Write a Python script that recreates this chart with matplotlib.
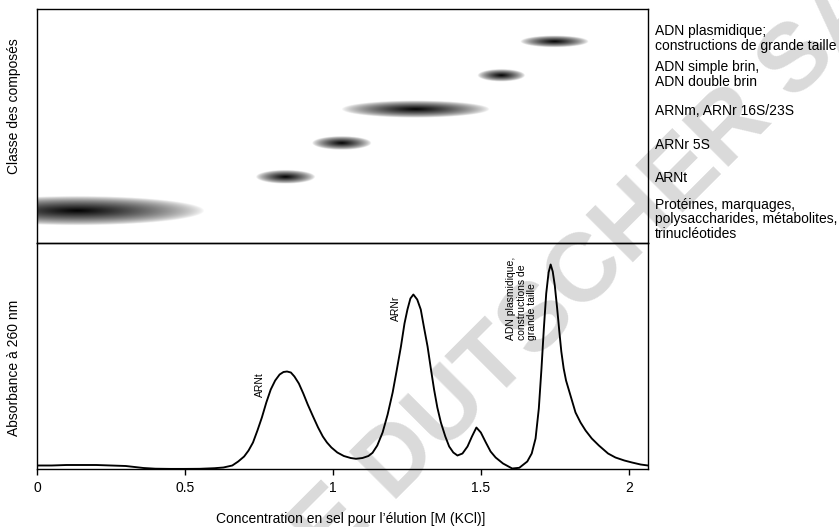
import numpy as np
import matplotlib as mpl
mpl.use('Agg')
import matplotlib.pyplot as plt

plt.rcParams['font.family'] = ['Liberation Sans', 'DejaVu Sans']

# --- data -------------------------------------------------------------
# compound classes, from lowest to highest elution salt
class_labels = ['Protéines, marquages,\npolysaccharides, métabolites,\ntrinucléotides',
                'ARNt',
                'ARNr 5S',
                'ARNm, ARNr 16S/23S',
                'ADN simple brin,\nADN double brin',
                'ADN plasmidique;\nconstructions de grande taille']
# elution window of each class (center and half width, M KCl)
class_center = [0.135, 0.84, 1.03, 1.28, 1.57, 1.75]
class_halfwidth = [0.43, 0.10, 0.10, 0.25, 0.08, 0.115]
class_spread = [0.43, 0.20, 0.20, 0.25, 0.18, 0.17]

# chromatogram (absorbance in arbitrary units)
conc = [0.00, 0.05, 0.10, 0.15, 0.20, 0.25, 0.30, 0.33, 0.36, 0.40, 0.45, 0.50, 0.55,
        0.60, 0.63, 0.66, 0.68, 0.70, 0.715, 0.73, 0.745, 0.76, 0.775, 0.79, 0.805,
        0.82, 0.833, 0.845, 0.858, 0.87, 0.885, 0.90, 0.915, 0.933, 0.95, 0.966, 0.98,
        0.995, 1.015, 1.037, 1.06, 1.078, 1.10, 1.12, 1.134, 1.15, 1.168, 1.185, 1.202,
        1.215, 1.230, 1.242, 1.252, 1.262, 1.272, 1.285, 1.297, 1.308, 1.320, 1.331,
        1.342, 1.353, 1.365, 1.38, 1.393, 1.407, 1.421, 1.438, 1.455, 1.47, 1.485, 1.50,
        1.517, 1.533, 1.550, 1.575, 1.606, 1.63, 1.657, 1.672, 1.685, 1.696, 1.705,
        1.713, 1.721, 1.729, 1.736, 1.743, 1.750, 1.758, 1.765, 1.772, 1.780, 1.788,
        1.80, 1.82, 1.837, 1.854, 1.875, 1.899, 1.93, 1.955, 1.985, 2.011, 2.04, 2.065]
absorb = [3.0, 3.0, 3.5, 3.5, 3.5, 3.0, 2.5, 1.5, 0.5, -0.2, -0.4, -0.4, -0.3,
          0.3, 1.0, 3.0, 7.0, 12, 18, 26, 38, 51, 66, 79, 88,
          94, 96.5, 97, 96, 92, 85, 75, 64, 52, 41, 32, 26,
          21, 16, 12.5, 10.5, 9.7, 10.5, 12.5, 15.7, 23, 36, 54, 76,
          97, 122, 145, 159, 170, 174, 169, 159, 141, 122, 100,
          79, 61, 46, 32, 22, 16, 13, 15, 22, 32, 41, 36,
          26, 17, 11, 5, 0, 0.7, 7, 15, 30, 60, 100,
          140, 175, 196, 204, 197, 183, 160, 138, 117, 100, 88,
          76, 56, 46, 38, 30, 23, 15, 11, 8, 6, 4, 3]

peak_labels = ['ARNt', 'ARNr', 'ADN plasmidique,\nconstructions de\ngrande taille']

# --- figure -----------------------------------------------------------
W, H = 839, 527
fig = plt.figure(figsize=(W / 100, H / 100), dpi=100)

def box(x0, y0, x1, y1):
    return [x0 / W, 1 - y1 / H, (x1 - x0) / W, (y1 - y0) / H]

# watermark behind everything
fig.text(590 / W, 1 - 270 / H, 'E DUTSCHER SA', rotation=45, rotation_mode='anchor',
         ha='center', va='center', fontsize=70, fontweight='bold', color='#dadada',
         zorder=-1)

ax_top = fig.add_axes(box(37, 9, 648, 243))
ax_bot = fig.add_axes(box(37, 243, 648, 469))
for a in (ax_top, ax_bot):
    a.set_facecolor('none')
    for s in a.spines.values():
        s.set_linewidth(1.0)
xmax = 2.065

# top: class map, blurred ellipses
ylo, yhi = -0.95, 5.98
gx = np.linspace(0, xmax, 900)
gy = np.linspace(ylo, yhi, 500)
X, Y = np.meshgrid(gx, gy)
dark = np.zeros_like(X)
for i, (cx, hw, hh) in enumerate(zip(class_center, class_halfwidth, class_spread)):
    r = np.sqrt(((X - cx) / hw) ** 2 + ((Y - i) / hh) ** 2)
    dark = np.maximum(dark, np.clip(1 - r, 0, 1) ** 0.7)
rgba = np.zeros(dark.shape + (4,))
rgba[..., 3] = dark
ax_top.imshow(rgba, extent=[0, xmax, ylo, yhi], origin='lower', aspect='auto',
              interpolation='bilinear')
ax_top.set_xlim(0, xmax)
ax_top.set_ylim(ylo, yhi)
ax_top.set_xticks([])
ax_top.set_yticks([])

label_y = [-0.25, 0.98, 1.95, 2.96, 4.04, 5.10]
for txt, yy in zip(class_labels, label_y):
    ax_top.text(xmax + 0.023, yy, txt, ha='left', va='center', fontsize=10,
                linespacing=1.05, clip_on=False)

# bottom: chromatogram
ax_bot.plot(conc, absorb, color='black', lw=1.35)
ax_bot.set_xlim(0, xmax)
ax_bot.set_ylim(-0.5, 225.5)
ax_bot.set_yticks([])
ax_bot.set_xticks([0, 0.5, 1, 1.5, 2])
ax_bot.set_xticklabels(['0', '0.5', '1', '1.5', '2'])
ax_bot.tick_params(axis='x', direction='out', length=4, width=1, pad=5, labelsize=10)

peak_pos = [(0.755, 84), (1.214, 160), (1.638, 170)]
for txt, (px, py) in zip(peak_labels, peak_pos):
    ax_bot.text(px, py, txt, rotation=90, ha='center', va='center', fontsize=7.5,
                multialignment='left', linespacing=1.1)

fig.text(351 / W, 1 - 519 / H, 'Concentration en sel pour l\u2019élution [M (KCl)]',
         ha='center', va='center', fontsize=10)
fig.text(14 / W, 1 - 106 / H, 'Classe des composés', rotation=90,
         ha='center', va='center', fontsize=10)
fig.text(14 / W, 1 - 368 / H, 'Absorbance à 260 nm', rotation=90,
         ha='center', va='center', fontsize=10)

fig.savefig('out.png', dpi=100)
